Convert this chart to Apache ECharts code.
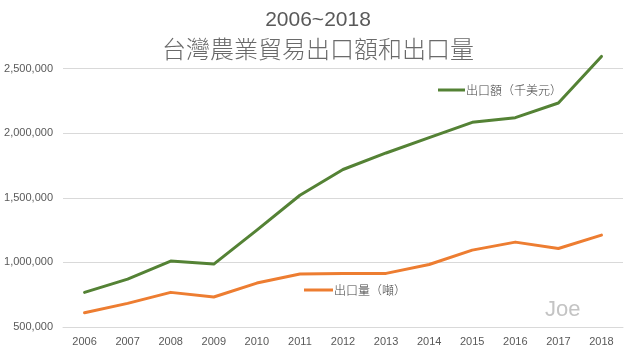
<!DOCTYPE html>
<html>
<head>
<meta charset="utf-8">
<script src="https://cdn.jsdelivr.net/npm/echarts@6/dist/echarts.min.js"></script>
<style>
html,body{margin:0;padding:0;background:#fff;}
#chart{width:636px;height:355px;}
</style>
</head>
<body>
<div id="chart"></div>
<script>
const years = ['2006','2007','2008','2009','2010','2011','2012','2013','2014','2015','2016','2017','2018'];
const exportValue = [768000, 871000, 1010000, 987000, 1250000, 1520000, 1719000, 1847000, 1966000, 2084000, 2120000, 2234000, 2594000];
const exportVolume = [611000, 683000, 768000, 732000, 840000, 910000, 915000, 915000, 984000, 1095000, 1157000, 1108000, 1211000];
const valueName = '出口額（千美元）';
const volumeName = '出口量（噸）';
const titleLine1 = '2006~2018';
const titleLine2 = '台灣農業貿易出口額和出口量';
const watermark = 'Joe';

const cjk = "'Noto Sans CJK TC','Noto Sans CJK SC','Noto Sans',sans-serif";
const latin = "'Liberation Sans','Noto Sans',sans-serif";

const chart = echarts.init(document.getElementById('chart'), null, {renderer:'canvas'});
chart.setOption({
  animation: false,
  backgroundColor: '#ffffff',
  title: [
    {text: titleLine1, left: 'center', top: 5, textStyle: {fontSize: 21, fontWeight: 'normal', color: '#595959', fontFamily: latin}},
    {text: titleLine2, left: 'center', top: 32, textStyle: {fontSize: 24, fontWeight: 300, color: '#6a6a6a', fontFamily: cjk}},
    {text: watermark, left: 540, top: 294, textStyle: {fontSize: 22, fontWeight: 'normal', color: '#c4c4c4', fontFamily: latin}}
  ],
  legend: [
    {data: [valueName], left: 438, top: 84, itemWidth: 27, itemHeight: 3, icon: 'rect', selectedMode: false, padding: 0,
     textStyle: {fontSize: 12, fontWeight: 300, color: '#404040', fontFamily: cjk, padding: [0, 0, 0, -4]}},
    {data: [volumeName], left: 304, top: 284, itemWidth: 29, itemHeight: 3, icon: 'rect', selectedMode: false, padding: 0,
     textStyle: {fontSize: 12, fontWeight: 300, color: '#404040', fontFamily: cjk, padding: [0, 0, 0, -4]}}
  ],
  grid: {left: 63, right: 13, top: 4, bottom: 28, containLabel: false},
  xAxis: {
    type: 'category',
    data: years,
    boundaryGap: true,
    axisLine: {lineStyle: {color: '#d9d9d9', width: 1}},
    axisTick: {show: false},
    axisLabel: {margin: 9, fontSize: 11, color: '#595959', fontFamily: latin}
  },
  yAxis: {
    type: 'value',
    min: 500000,
    max: 3000000,
    interval: 500000,
    axisLine: {show: false},
    axisTick: {show: false},
    axisLabel: {
      margin: 10, fontSize: 11, color: '#595959', fontFamily: latin, showMaxLabel: false,
      formatter: v => v.toLocaleString('en-US')
    },
    splitLine: {lineStyle: {color: ['#d9d9d9','#d9d9d9','#d9d9d9','#d9d9d9','#d9d9d9','rgba(0,0,0,0)'], width: 1}}
  },
  series: [
    {name: valueName, type: 'line', data: exportValue, symbol: 'none', color: '#548235',
     lineStyle: {width: 3, color: '#548235', cap: 'round', join: 'round'}},
    {name: volumeName, type: 'line', data: exportVolume, symbol: 'none', color: '#ed7d31',
     lineStyle: {width: 3, color: '#ed7d31', cap: 'round', join: 'round'}}
  ]
});
</script>
</body>
</html>
